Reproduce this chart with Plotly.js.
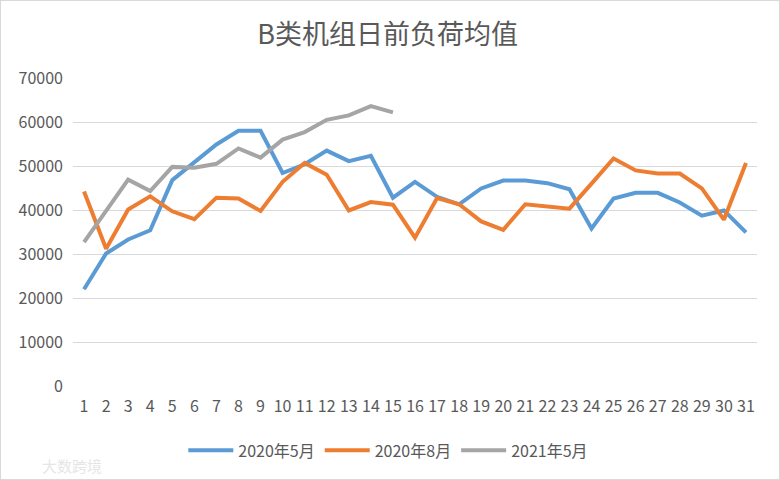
<!DOCTYPE html>
<html>
<head>
<meta charset="utf-8">
<script src="https://cdn.plot.ly/plotly-3.0.1.min.js"></script>
<style>
html,body{margin:0;padding:0;background:#fff;}
#wrap{position:relative;width:780px;height:480px;}
#chart{width:780px;height:480px;}
#frame{position:absolute;left:0;top:0;width:780px;height:480px;box-sizing:border-box;border:1px solid #d9d9d9;pointer-events:none;}
</style>
</head>
<body>
<div id="wrap"><div id="chart"></div><div id="frame"></div></div>
<script>
const days = ['1','2','3','4','5','6','7','8','9','10','11','12','13','14','15','16','17','18','19','20','21','22','23','24','25','26','27','28','29','30','31'];
const seriesNames = ['2020年5月','2020年8月','2021年5月'];
const may2020 = [22000,30100,33300,35400,46800,50900,54900,58000,58000,48400,50400,53500,51100,52300,42800,46400,43000,41300,44900,46700,46700,46100,44700,35800,42600,43900,43900,41700,38700,39900,34900];
const aug2020 = [44200,31200,40100,43100,39700,37900,42800,42600,39800,46400,50700,48000,39900,41800,41200,33700,42700,41300,37400,35500,41300,40900,40300,46000,51700,49000,48300,48300,44900,37800,50700];
const may2021 = [32700,39800,46900,44300,49800,49600,50500,54000,51900,56000,57700,60500,61500,63600,62200];
const colors = ['#5B9BD5','#ED7D31','#A5A5A5'];
const yTicks = [0,10000,20000,30000,40000,50000,60000,70000];

const font = '"Noto Sans CJK SC", "Noto Sans", sans-serif';
const dataSets = [may2020, aug2020, may2021];
const traces = dataSets.map((vals, i) => ({
  type: 'scatter',
  mode: 'lines',
  name: seriesNames[i],
  x: days.slice(0, vals.length),
  y: vals,
  line: {color: colors[i], width: 4, shape: 'linear'},
  hoverinfo: 'x+y'
}));

const layout = {
  width: 780, height: 480,
  margin: {l: 73, r: 23, t: 78, b: 94},
  paper_bgcolor: '#ffffff',
  plot_bgcolor: '#ffffff',
  font: {family: font, color: '#595959', size: 16},
  title: {
    text: 'B类机组日前负荷均值',
    font: {family: font, size: 27, color: '#595959'},
    x: 0.497, xanchor: 'center',
    y: 0.928, yanchor: 'middle'
  },
  xaxis: {
    type: 'category',
    categoryorder: 'array',
    categoryarray: days,
    range: [-0.5, 30.5],
    showgrid: false,
    showline: false,
    zeroline: false,
    ticks: '',
    tickfont: {family: font, size: 16, color: '#595959'},
    ticklabelstandoff: 9,
    fixedrange: true
  },
  yaxis: {
    range: [0, 70000],
    tickvals: yTicks,
    ticktext: yTicks.map(String),
    showgrid: true,
    gridcolor: '#d9d9d9',
    gridwidth: 1,
    zeroline: false,
    showline: false,
    ticks: '',
    tickfont: {family: font, size: 16, color: '#595959'},
    ticklabelstandoff: 9,
    fixedrange: true
  },
  showlegend: true,
  legend: {
    orientation: 'h',
    x: 0.461, xanchor: 'center',
    y: -0.209, yanchor: 'middle',
    font: {family: font, size: 16, color: '#595959'},
    itemwidth: 45,
    tracegroupgap: 0,
    bgcolor: 'rgba(0,0,0,0)'
  },
  annotations: [{
    text: '大数跨境',
    xref: 'paper', yref: 'paper',
    x: (40 - 73) / 684, y: (385.7 - 465) / 308,
    xanchor: 'left', yanchor: 'middle',
    showarrow: false,
    font: {family: font, size: 15, color: '#e6e6e6'}
  }]
};

Plotly.newPlot('chart', traces, layout, {displayModeBar: false, staticPlot: true});
</script>
</body>
</html>
